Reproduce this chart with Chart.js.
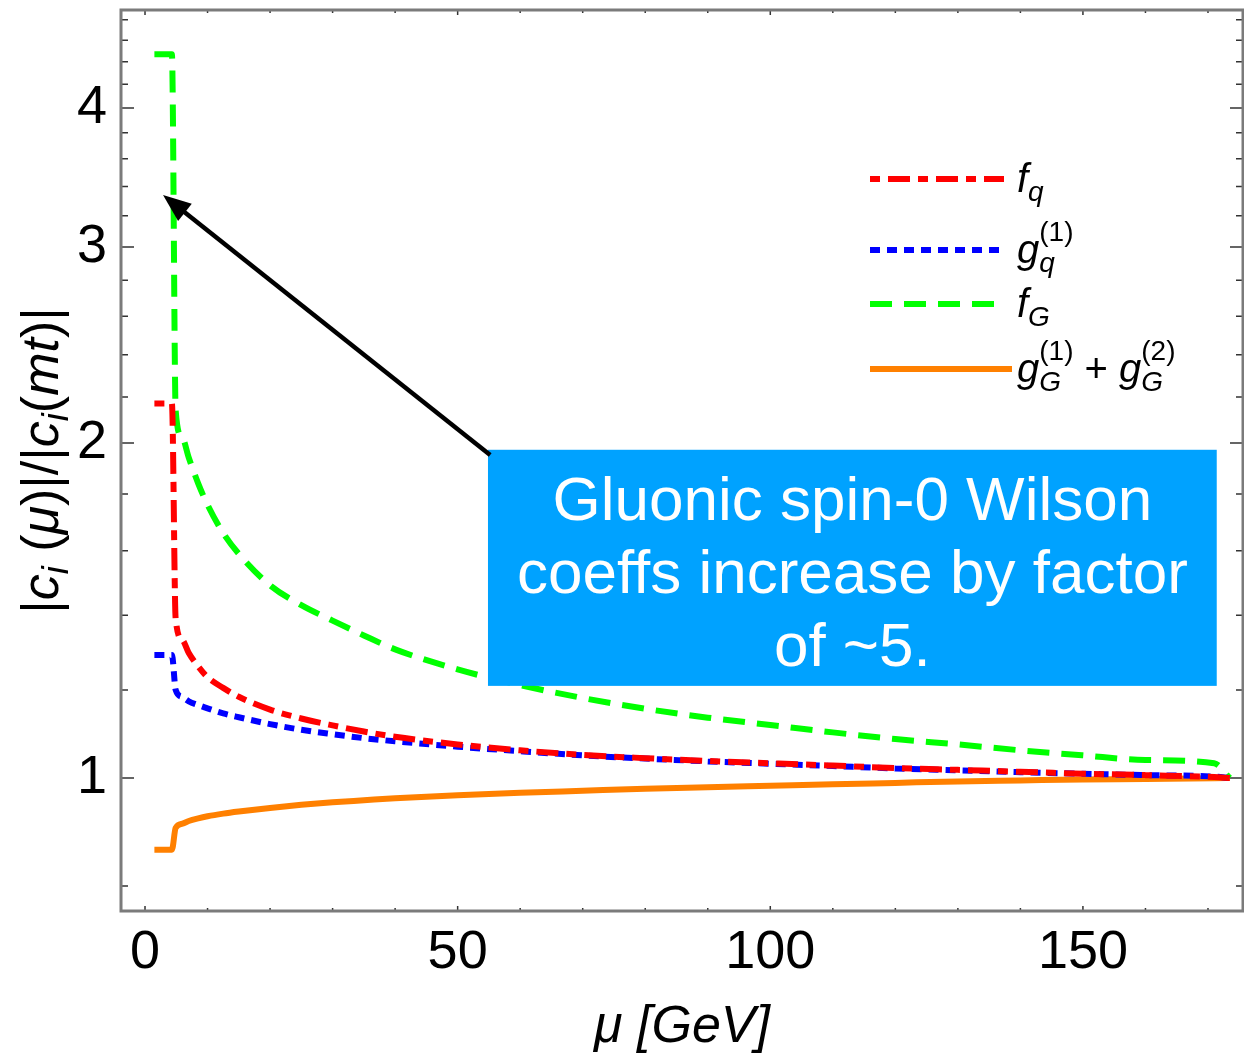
<!DOCTYPE html>
<html>
<head>
<meta charset="utf-8">
<script src="https://cdn.jsdelivr.net/npm/chart.js@4.4.1/dist/chart.umd.min.js"></script>
<style>
  html, body { margin: 0; padding: 0; background: #fff; }
  canvas { display: block; }
</style>
</head>
<body>
<canvas id="chart" width="1244" height="1059"></canvas>
<script>
// renormalisation scale mu [GeV] and |c_i(mu)|/|c_i(mt)| per coefficient
const mu  = [1.5, 4.3, 4.9, 6, 7, 8.5, 10, 12.5, 15, 20, 25, 30, 35, 40, 50, 60, 70, 80, 90, 100, 110, 120, 130, 140, 150, 160, 171, 173.5];
const fq  = [2.17, 2.17, 1.39, 1.33, 1.295, 1.26, 1.232, 1.205, 1.183, 1.152, 1.131, 1.115, 1.101, 1.089, 1.072, 1.059, 1.049, 1.042, 1.036, 1.031, 1.026, 1.021, 1.017, 1.013, 1.009, 1.006, 1.002, 1.0];
const gq1 = [1.29, 1.29, 1.20, 1.182, 1.172, 1.163, 1.155, 1.143, 1.134, 1.118, 1.105, 1.095, 1.086, 1.079, 1.067, 1.057, 1.048, 1.041, 1.035, 1.03, 1.025, 1.02, 1.016, 1.012, 1.009, 1.006, 1.003, 1.0];
const fG  = [4.47, 4.47, 2.14, 2.02, 1.94, 1.84, 1.76, 1.66, 1.59, 1.49, 1.43, 1.385, 1.343, 1.305, 1.252, 1.212, 1.18, 1.154, 1.133, 1.116, 1.099, 1.084, 1.072, 1.059, 1.048, 1.038, 1.031, 1.0];
const gG  = [0.862, 0.862, 0.902, 0.91, 0.915, 0.92, 0.924, 0.929, 0.933, 0.940, 0.946, 0.951, 0.955, 0.959, 0.965, 0.970, 0.974, 0.978, 0.981, 0.984, 0.987, 0.99, 0.993, 0.995, 0.997, 0.998, 0.9995, 1.0];

const xTickVals = [0, 10, 20, 30, 40, 50, 60, 70, 80, 90, 100, 110, 120, 130, 140, 150, 160, 170];
const xLabelVals = [0, 50, 100, 150];
const yTickVals = [0.8, 1, 1.2, 1.4, 1.6, 1.8, 2, 2.2, 2.4, 2.6, 2.8, 3, 3.2, 3.4, 3.6, 3.8, 4, 4.2, 4.4, 4.6, 4.8];
const yLabelVals = [1, 2, 3, 4];

const noteLines = ['Gluonic spin-0 Wilson', 'coeffs increase by factor', 'of ~5.'];

const FONT = '"Liberation Sans", Arial, Helvetica, sans-serif';

// rich label pieces: {t, it} = normal text, {sub, sup} = stacked indices
const legendItems = [
  [{ t: 'f', it: 1 }, { sub: 'q' }],
  [{ t: 'g', it: 1 }, { sub: 'q', sup: '(1)' }],
  [{ t: 'f', it: 1 }, { sub: 'G' }],
  [{ t: 'g', it: 1 }, { sub: 'G', sup: '(1)' }, { t: ' + ' }, { t: 'g', it: 1 }, { sub: 'G', sup: '(2)' }]
];
const yTitle = [{ t: '|' }, { t: 'c', it: 1 }, { sub: 'i' }, { t: ' (' }, { t: 'μ', it: 1 }, { t: ')|/|' },
                { t: 'c', it: 1 }, { sub: 'i' }, { t: '(' }, { t: 'mt', it: 1 }, { t: ')|' }];

function drawRich(ctx, parts, x, y, big, small, subDy, supDy, measureOnly) {
  let cx = x;
  parts.forEach(p => {
    if (p.t !== undefined) {
      ctx.font = (p.it ? 'italic ' : '') + big + 'px ' + FONT;
      if (!measureOnly) ctx.fillText(p.t, cx, y);
      cx += ctx.measureText(p.t).width;
    } else {
      let w = 0;
      if (p.sub) {
        ctx.font = 'italic ' + small + 'px ' + FONT;
        if (!measureOnly) ctx.fillText(p.sub, cx, y + subDy);
        w = Math.max(w, ctx.measureText(p.sub).width);
      }
      if (p.sup) {
        ctx.font = small + 'px ' + FONT;
        if (!measureOnly) ctx.fillText(p.sup, cx, y - supDy);
        w = Math.max(w, ctx.measureText(p.sup).width);
      }
      cx += w;
    }
  });
  return cx - x;
}

const series = (ys) => mu.map((m, i) => ({ x: m, y: ys[i] }));

const frame = {
  id: 'frame',
  beforeDatasetsDraw(chart) {
    const { ctx, chartArea: a, scales: { x, y } } = chart;
    ctx.save();
    ctx.strokeStyle = '#333';
    ctx.lineWidth = 1.5;
    ctx.beginPath();
    xTickVals.forEach(v => {
      const px = x.getPixelForValue(v);
      const len = xLabelVals.includes(v) ? 5 : 3;
      ctx.moveTo(px, a.bottom); ctx.lineTo(px, a.bottom - len);
      ctx.moveTo(px, a.top); ctx.lineTo(px, a.top + len);
    });
    yTickVals.forEach(v => {
      const py = y.getPixelForValue(v);
      const len = yLabelVals.includes(v) ? 13 : 7;
      ctx.moveTo(a.left, py); ctx.lineTo(a.left + len, py);
      ctx.moveTo(a.right, py); ctx.lineTo(a.right - len, py);
    });
    ctx.stroke();
    ctx.strokeStyle = '#7b7b7b';
    ctx.lineWidth = 3;
    ctx.strokeRect(a.left, a.top, a.width, a.height);

    // y axis title, rotated
    ctx.fillStyle = '#000';
    ctx.textBaseline = 'alphabetic';
    const w = drawRich(ctx, yTitle, 0, 0, 52, 36, 10, 0, true);
    ctx.translate(58, (a.top + a.bottom) / 2);
    ctx.rotate(-Math.PI / 2);
    drawRich(ctx, yTitle, -w / 2, 0, 52, 36, 10, 0, false);
    ctx.restore();
  },
  afterDatasetsDraw(chart) {
    const { ctx, scales: { x, y } } = chart;
    ctx.save();
    // callout box
    const bx0 = x.getPixelForValue(54.85), bx1 = x.getPixelForValue(171.4);
    const by0 = y.getPixelForValue(1.972), by1 = y.getPixelForValue(1.21);
    ctx.fillStyle = '#00a2ff';
    ctx.fillRect(bx0, by0, bx1 - bx0, by1 - by0);
    ctx.fillStyle = '#fff';
    ctx.font = '62px ' + FONT;
    ctx.textAlign = 'center';
    ctx.textBaseline = 'alphabetic';
    noteLines.forEach((s, i) => ctx.fillText(s, (bx0 + bx1) / 2, by0 + 70 + i * 73));

    // arrow from box corner to f_G curve
    const tx = x.getPixelForValue(2.88), ty = y.getPixelForValue(3.34);
    const sx = x.getPixelForValue(55.2), sy = y.getPixelForValue(1.951);
    const ang = Math.atan2(ty - sy, tx - sx);
    const hl = 28, hw = 11;
    ctx.strokeStyle = '#000';
    ctx.fillStyle = '#000';
    ctx.lineWidth = 4.5;
    ctx.beginPath();
    ctx.moveTo(sx, sy);
    ctx.lineTo(tx - (hl - 4) * Math.cos(ang), ty - (hl - 4) * Math.sin(ang));
    ctx.stroke();
    ctx.beginPath();
    ctx.moveTo(tx, ty);
    ctx.lineTo(tx - hl * Math.cos(ang) + hw * Math.sin(ang), ty - hl * Math.sin(ang) - hw * Math.cos(ang));
    ctx.lineTo(tx - hl * Math.cos(ang) - hw * Math.sin(ang), ty - hl * Math.sin(ang) + hw * Math.cos(ang));
    ctx.closePath();
    ctx.fill();
    ctx.restore();
  },
  afterDraw(chart) {
    const { ctx } = chart;
    const rows = [179, 250, 304, 369];
    ctx.save();
    chart.data.datasets.forEach((ds, i) => {
      const ly = rows[i];
      ctx.strokeStyle = ds.borderColor;
      ctx.lineWidth = ds.borderWidth;
      ctx.setLineDash(ds.borderDash || []);
      ctx.beginPath();
      ctx.moveTo(870, ly);
      ctx.lineTo(i === 3 ? 1012 : 1004, ly);
      ctx.stroke();
      ctx.setLineDash([]);
      ctx.fillStyle = '#000';
      ctx.textAlign = 'left';
      ctx.textBaseline = 'alphabetic';
      drawRich(ctx, legendItems[i], 1017, ly + 13, 40, 28, 9, 22, false);
    });
    ctx.restore();
  }
};

new Chart(document.getElementById('chart'), {
  type: 'line',
  data: {
    datasets: [
      { label: 'fq', data: series(fq), borderColor: '#ff0000', borderDash: [10, 8, 22, 8] },
      { label: 'gq1', data: series(gq1), borderColor: '#0000ff', borderDash: [10, 7] },
      { label: 'fG', data: series(fG), borderColor: '#00ff00', borderDash: [22, 12] },
      { label: 'gG', data: series(gG), borderColor: '#ff8000' }
    ].map(d => Object.assign({
      borderWidth: 6, pointRadius: 0, fill: false, cubicInterpolationMode: 'monotone', borderCapStyle: 'butt'
    }, d))
  },
  options: {
    responsive: false,
    animation: false,
    layout: { padding: { top: 10, right: 1, left: 0, bottom: 0 } },
    plugins: { legend: { display: false }, tooltip: { enabled: false } },
    scales: {
      x: {
        type: 'linear', min: -3.84, max: 175.6,
        afterBuildTicks: s => { s.ticks = xTickVals.map(v => ({ value: v })); },
        afterFit: s => { s.height = 148; s.paddingLeft = 0; s.paddingRight = 0; },
        grid: { display: false, drawTicks: false },
        border: { display: false },
        ticks: {
          autoSkip: false, maxRotation: 0, padding: 10, color: '#000',
          font: { family: FONT, size: 54 },
          callback: v => xLabelVals.includes(v) ? String(v) : ''
        },
        title: {
          display: true, text: 'μ [GeV]', color: '#000',
          font: { family: FONT, size: 52, style: 'italic' }, padding: { top: 0, bottom: 0 }
        }
      },
      y: {
        type: 'logarithmic', min: 0.7595, max: 4.898,
        afterBuildTicks: s => { s.ticks = yTickVals.map(v => ({ value: v })); },
        afterFit: s => { s.width = 121; s.paddingTop = 0; s.paddingBottom = 0; },
        grid: { display: false, drawTicks: false },
        border: { display: false },
        ticks: {
          autoSkip: false, padding: 14, color: '#000',
          font: { family: FONT, size: 54 },
          callback: v => yLabelVals.includes(v) ? String(v) : ''
        }
      }
    }
  },
  plugins: [frame]
});
</script>
</body>
</html>
